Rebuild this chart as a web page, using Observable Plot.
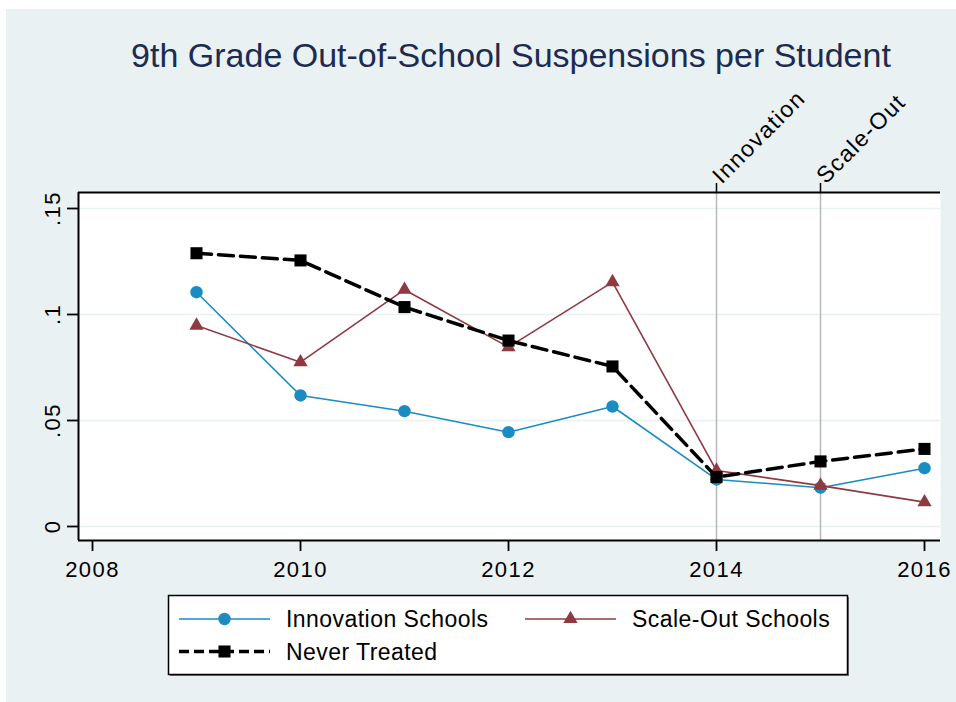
<!DOCTYPE html>
<html><head><meta charset="utf-8">
<script src="https://cdn.jsdelivr.net/npm/d3@7"></script>
<script src="https://cdn.jsdelivr.net/npm/@observablehq/plot@0.6"></script>
<style>
html,body{margin:0;padding:0;background:#fff;}
#wrap{position:relative;width:956px;height:702px;overflow:hidden;}
#bg{position:absolute;left:6px;top:9px;right:0;bottom:0;background:#EAF1F3;}
#chart,#overlay{position:absolute;left:0;top:0;}
</style></head><body>
<div id="wrap"><div id="bg"></div><div id="chart"></div><svg id="overlay" width="956" height="702"></svg></div>
<script>
// ---- data ----
const years = [2009, 2010, 2011, 2012, 2013, 2014, 2015, 2016];
const innovation   = [0.1105, 0.0618, 0.0544, 0.0445, 0.0566, 0.0222, 0.0183, 0.0275];
const scaleOut     = [0.0948, 0.0775, 0.1117, 0.0846, 0.1153, 0.0264, 0.0193, 0.0115];
const neverTreated = [0.1289, 0.1255, 0.1035, 0.0877, 0.0755, 0.0233, 0.0307, 0.0366];
const seriesNames = ["Innovation Schools", "Scale-Out Schools", "Never Treated"];
const xTicks = [2008, 2010, 2012, 2014, 2016];
const yTicks = [0, 0.05, 0.1, 0.15];
const yTickLabels = ["0", ".05", ".1", ".15"];
const eventYears = [2014, 2015];
const eventLabels = ["Innovation", "Scale-Out"];
const titleText = "9th Grade Out-of-School Suspensions per Student";

// ---- styling ----
const BLUE = "#1a8cc2", MAROON = "#8f3a41", BLACK = "#000";
const FONT = "'Liberation Sans', Arial, Helvetica, sans-serif";
const toRows = vals => years.map((yr, i) => ({year: yr, v: vals[i]}));
const dInn = toRows(innovation), dSco = toRows(scaleOut), dNev = toRows(neverTreated);

const x0 = 2008 - 14/104, x1 = 2016 + 16/104;
const y0 = -14/2120, y1 = 0.15 + 16/2120;

const plot = Plot.plot({
  width: 956, height: 702,
  marginLeft: 78, marginRight: 16, marginTop: 192, marginBottom: 162,
  x: {domain: [x0, x1]},
  y: {domain: [y0, y1]},
  style: {background: "transparent", fontFamily: FONT, color: "black", overflow: "visible"},
  marks: [
    Plot.frame({fill: "white", stroke: null}),
    Plot.ruleY(yTicks, {stroke: "#EAF1F3", strokeWidth: 1.6}),
    Plot.ruleX(eventYears, {stroke: "#b8b8b8", strokeWidth: 1.5}),
    Plot.ruleX([x0], {stroke: BLACK, strokeWidth: 2}),
    Plot.ruleY([y0], {stroke: BLACK, strokeWidth: 2}),
    Plot.ruleY([y1], {stroke: BLACK, strokeWidth: 2}),
    Plot.axisY({ticks: yTicks, tickFormat: d => yTickLabels[yTicks.indexOf(d)], tickSize: 11,
      tickRotate: -90, tickPadding: 8, fontSize: 22, strokeWidth: 1.8, label: null}),
    Plot.axisX({ticks: xTicks, tickFormat: d => String(d), tickSize: 11, tickPadding: 10,
      fontSize: 22, strokeWidth: 1.8, label: null}),
    Plot.axisX({anchor: "top", ticks: eventYears, tickFormat: d => eventLabels[eventYears.indexOf(d)],
      tickSize: 10, tickRotate: -45, tickPadding: 3, fontSize: 23, strokeWidth: 1.5, label: null}),
    Plot.line(dInn, {x: "year", y: "v", stroke: BLUE, strokeWidth: 1.6}),
    Plot.dot(dInn, {x: "year", y: "v", fill: BLUE, r: 6.2, symbol: "circle"}),
    Plot.line(dSco, {x: "year", y: "v", stroke: MAROON, strokeWidth: 1.6}),
    Plot.dot(dSco, {x: "year", y: "v", fill: MAROON, r: 5.3, symbol: "triangle"}),
    Plot.line(dNev, {x: "year", y: "v", stroke: BLACK, strokeWidth: 3.5, strokeDasharray: "15,7"}),
    Plot.dot(dNev, {x: "year", y: "v", fill: BLACK, r: 6.8, symbol: "square"})
  ]
});
document.getElementById("chart").appendChild(plot);
d3.select(plot).selectAll("g[aria-label='x-axis tick label'] text, g[aria-label='y-axis tick label'] text")
  .style("letter-spacing", "1.4px");

// ---- title & legend overlay ----
const ov = d3.select("#overlay").style("font-family", FONT);
ov.append("text").attr("x", 511).attr("y", 66.7).attr("text-anchor", "middle")
  .attr("font-size", 34).attr("fill", "#1c2b50").text(titleText);

const lg = ov.append("g");
lg.append("rect").attr("x", 170).attr("y", 597).attr("width", 679).attr("height", 79).attr("fill", "#777");
lg.append("rect").attr("x", 168.5).attr("y", 595.5).attr("width", 679).attr("height", 79)
  .attr("fill", "white").attr("stroke", "black").attr("stroke-width", 1.5);

const sym = (type, size) => d3.symbol().type(type).size(size)();
const items = [
  {name: seriesNames[0], color: BLUE, x: 179, x2: 270, y: 619, dash: null, w: 1.6, type: d3.symbolCircle, size: Math.PI*6.2*6.2},
  {name: seriesNames[1], color: MAROON, x: 525, x2: 616, y: 619, dash: null, w: 1.6, type: d3.symbolTriangle, size: Math.PI*5.3*5.3},
  {name: seriesNames[2], color: BLACK, x: 179, x2: 270, y: 651.5, dash: "10,5", w: 3.5, type: d3.symbolSquare, size: Math.PI*6.8*6.8}
];
for (const it of items) {
  lg.append("line").attr("x1", it.x).attr("x2", it.x2).attr("y1", it.y).attr("y2", it.y)
    .attr("stroke", it.color).attr("stroke-width", it.w).attr("stroke-dasharray", it.dash);
  lg.append("path").attr("d", sym(it.type, it.size))
    .attr("transform", `translate(${(it.x + it.x2)/2},${it.y})`).attr("fill", it.color);
  lg.append("text").attr("x", it.x2 + 16).attr("y", it.y + 8).attr("font-size", 23)
    .style("letter-spacing", "0.45px").attr("fill", "black").text(it.name);
}
</script>
</body></html>
